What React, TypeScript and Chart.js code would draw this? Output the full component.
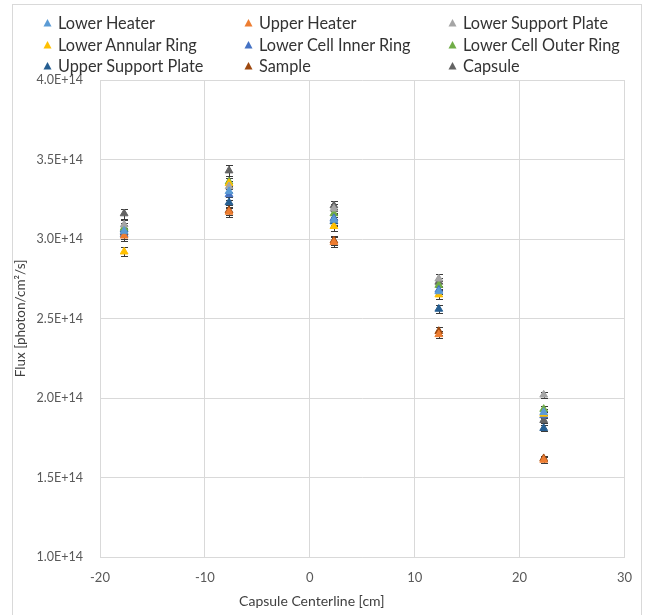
import React, { useEffect, useRef } from "react";
import { Chart, registerables } from "chart.js";

Chart.register(...registerables);

// Capsule centerline positions [cm]
const positions = [-17.7, -7.7, 2.3, 12.3, 22.3];

// Flux values in units of 1E+14 photon/cm²/s
const lowerHeater = [3.05, 3.3, 3.12, 2.67, 1.91];
const upperHeater = [3.02, 3.17, 2.98, 2.4, 1.61];
const lowerSupportPlate = [3.09, 3.33, 3.19, 2.75, 2.02];
const lowerAnnularRing = [2.92, 3.35, 3.08, 2.65, 1.9];
const lowerCellInnerRing = [3.03, 3.28, 3.13, 2.68, 1.89];
const lowerCellOuterRing = [3.07, 3.36, 3.16, 2.71, 1.93];
const upperSupportPlate = [3.06, 3.23, 3.11, 2.56, 1.81];
const sample = [3.04, 3.18, 2.99, 2.42, 1.62];
const capsule = [3.16, 3.43, 3.21, 2.73, 1.86];

// relative uncertainty of each flux value
const relativeError = 0.01;

const seriesNames = [
  "Lower Heater",
  "Upper Heater",
  "Lower Support Plate",
  "Lower Annular Ring",
  "Lower Cell Inner Ring",
  "Lower Cell Outer Ring",
  "Upper Support Plate",
  "Sample",
  "Capsule",
];
const seriesValues = [
  lowerHeater,
  upperHeater,
  lowerSupportPlate,
  lowerAnnularRing,
  lowerCellInnerRing,
  lowerCellOuterRing,
  upperSupportPlate,
  sample,
  capsule,
];
const seriesColors = [
  "#5B9BD5",
  "#ED7D31",
  "#A5A5A5",
  "#FFC000",
  "#4472C4",
  "#70AD47",
  "#255E91",
  "#9E480E",
  "#636363",
];

const xTitle = "Capsule Centerline [cm]";
const yTitle = "Flux [photon/cm²/s]";

const FONT = "Lato, 'Open Sans', sans-serif";

const errorBarPlugin = {
  id: "errorBars",
  beforeDatasetsDraw(chart: any) {
    const ctx = chart.ctx;
    const xs = chart.scales.x;
    const ys = chart.scales.y;
    ctx.save();
    ctx.strokeStyle = "#3a3a3a";
    ctx.lineWidth = 1;
    chart.data.datasets.forEach((ds: any) => {
      ds.data.forEach((p: any) => {
        const px = Math.round(xs.getPixelForValue(p.x)) + 0.5;
        const e = p.y * relativeError;
        const top = Math.round(ys.getPixelForValue(p.y + e)) + 0.5;
        const bot = Math.round(ys.getPixelForValue(p.y - e)) + 0.5;
        ctx.beginPath();
        ctx.moveTo(px, top);
        ctx.lineTo(px, bot);
        ctx.moveTo(px - 3.5, top);
        ctx.lineTo(px + 3.5, top);
        ctx.moveTo(px - 3.5, bot);
        ctx.lineTo(px + 3.5, bot);
        ctx.stroke();
      });
    });
    ctx.restore();
  },
};

const titlesPlugin = {
  id: "axisTitles",
  afterDraw(chart: any) {
    const ctx = chart.ctx;
    const xs = chart.scales.x;
    const area = chart.chartArea;
    ctx.save();
    ctx.fillStyle = "#404040";
    ctx.font = `14px ${FONT}`;
    ctx.textAlign = "center";
    ctx.textBaseline = "middle";
    ctx.fillText(xTitle, xs.getPixelForValue(0) + 2, 601);
    ctx.font = `13.5px ${FONT}`;
    ctx.translate(21, (area.top + area.bottom) / 2);
    ctx.rotate(-Math.PI / 2);
    ctx.fillText(yTitle, 0, 0);
    ctx.restore();
  },
};

function Triangle({ color }: { color: string }) {
  return (
    <svg width="9" height="9" style={{ display: "block" }}>
      <polygon points="4.5,1 8.5,8.5 0.5,8.5" fill={color} />
    </svg>
  );
}

export default function App() {
  const canvasRef = useRef<HTMLCanvasElement | null>(null);

  useEffect(() => {
    if (!canvasRef.current) return;
    const datasets = seriesNames.map((name, i) => ({
      label: name,
      data: positions.map((x, j) => ({ x, y: seriesValues[i][j] })),
      backgroundColor: seriesColors[i],
      borderColor: seriesColors[i],
      pointStyle: "triangle",
      pointRadius: 4.5,
      pointBorderWidth: 1,
      showLine: false,
    }));
    const chart = new Chart(canvasRef.current, {
      type: "scatter",
      data: { datasets },
      plugins: [errorBarPlugin, titlesPlugin],
      options: {
        animation: false,
        responsive: false,
        layout: { padding: { left: 0, right: 16, top: 80, bottom: 0 } },
        plugins: { legend: { display: false }, tooltip: { enabled: false } },
        scales: {
          x: {
            type: "linear",
            min: -20,
            max: 30,
            ticks: {
              stepSize: 10,
              color: "#595959",
              font: { size: 13, family: FONT },
              padding: 13,
            },
            grid: { color: "#d9d9d9", drawTicks: false },
            border: { color: "#d9d9d9" },
            afterFit: (s: any) => {
              s.height = 58;
            },
          },
          y: {
            type: "linear",
            min: 1,
            max: 4,
            ticks: {
              stepSize: 0.5,
              color: "#595959",
              font: { size: 12.5, family: FONT },
              padding: 17,
              callback: (v: any) => Number(v).toFixed(1) + "E+14",
            },
            grid: { color: "#d9d9d9", drawTicks: false },
            border: { color: "#d9d9d9" },
            afterFit: (s: any) => {
              s.width = 100;
            },
          },
        },
      },
    });
    return () => chart.destroy();
  }, []);

  const colLeft = [43, 244, 448];
  const rowTop = [12, 34, 55];

  return (
    <div
      style={{
        position: "fixed",
        left: 0,
        top: 0,
        width: 645,
        height: 615,
        background: "#fff",
        fontFamily: FONT,
      }}
    >
      <div
        style={{
          position: "absolute",
          left: 12,
          top: 4,
          width: 630,
          height: 620,
          border: "1px solid #d9d9d9",
          boxSizing: "border-box",
        }}
      />
      <canvas
        ref={canvasRef}
        width={645}
        height={615}
        style={{ position: "absolute", left: 0, top: 0 }}
      />
      {seriesNames.map((name, i) => (
        <div
          key={name}
          style={{
            position: "absolute",
            left: colLeft[i % 3],
            top: rowTop[Math.floor(i / 3)],
            height: 20,
            display: "flex",
            alignItems: "center",
            gap: 6,
            fontSize: 16.3,
            color: "#333333",
            whiteSpace: "nowrap",
          }}
        >
          <Triangle color={seriesColors[i]} />
          <span>{name}</span>
        </div>
      ))}
    </div>
  );
}
